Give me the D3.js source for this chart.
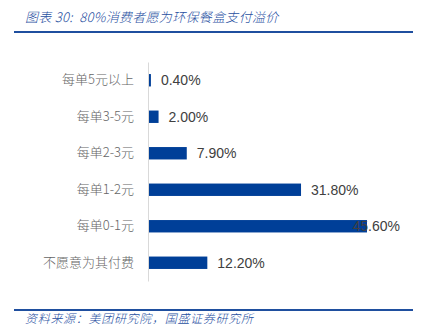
<!DOCTYPE html>
<html>
<head>
<meta charset="utf-8">
<script src="https://cdn.jsdelivr.net/npm/d3@7"></script>
<style>
  body { margin: 0; background: #fff; }
  text { font-family: "Noto Sans CJK SC", "Liberation Sans", sans-serif; }
</style>
</head>
<body>
<script>
// chart data
var categories = ["每单5元以上", "每单3-5元", "每单2-3元", "每单1-2元", "每单0-1元", "不愿意为其付费"];
var values = [0.4, 2.0, 7.9, 31.8, 45.6, 12.2];
var valueLabels = ["0.40%", "2.00%", "7.90%", "31.80%", "45.60%", "12.20%"];
var titleText = "图表 30:\u00a0\u00a080%消费者愿为环保餐盒支付溢价";
var sourceText = "资料来源：美团研究院，国盛证券研究所";

var width = 431, height = 336;

var svg = d3.select("body")
    .append("svg")
    .attr("width", width)
    .attr("height", height);

// header
svg.append("text")
    .attr("x", 25)
    .attr("y", 22)
    .attr("fill", "#1f4f9f")
    .attr("font-size", 13)
    .attr("font-style", "italic")
    .attr("font-weight", 300)
    .attr("letter-spacing", 0.3)
    .text(titleText);

svg.append("line")
    .attr("x1", 14).attr("x2", 413)
    .attr("y1", 32).attr("y2", 32)
    .attr("stroke", "#1f4f9f")
    .attr("stroke-width", 2);

// scales
var x = d3.scaleLinear()
    .domain([0, 45.6])
    .range([148, 366]);

var y = d3.scaleBand()
    .domain(categories)
    .range([62, 281])
    .paddingInner(0.66)
    .paddingOuter(0.33);

// category axis
var yAxis = svg.append("g")
    .attr("transform", "translate(148,0)")
    .call(d3.axisLeft(y).tickSize(0).tickPadding(14));
yAxis.select(".domain").attr("stroke", "#d9d9d9");
yAxis.selectAll("text")
    .attr("fill", "#666666")
    .attr("font-size", 13)
    .attr("font-weight", 300)
    .style("font-family", "'Noto Sans CJK SC', sans-serif");

// bars
var data = categories.map(function(c, i){
  return {cat: c, val: values[i], label: valueLabels[i]};
});

svg.selectAll(".bar")
    .data(data)
    .enter()
    .append("rect")
    .attr("class", "bar")
    .attr("x", x(0) + 1)
    .attr("y", function(d){ return y(d.cat); })
    .attr("width", function(d){ return Math.max(1, x(d.val) - x(0)); })
    .attr("height", y.bandwidth())
    .attr("fill", "#003f98");

// value labels (pushed back inside when they would run past the plot edge)
svg.selectAll(".val")
    .data(data)
    .enter()
    .append("text")
    .attr("class", "val")
    .attr("y", function(d){ return y(d.cat) + y.bandwidth() / 2; })
    .attr("dy", "0.35em")
    .attr("fill", "#404040")
    .attr("font-size", 14)
    .style("font-family", "'Liberation Sans', Arial, sans-serif")
    .text(function(d){ return d.label; })
    .attr("x", function(d){
      var w = this.getComputedTextLength();
      return Math.min(x(d.val) + 11, 400 - w);
    });

// footer
svg.append("line")
    .attr("x1", 14).attr("x2", 413)
    .attr("y1", 310).attr("y2", 310)
    .attr("stroke", "#1f4f9f")
    .attr("stroke-width", 2);

svg.append("text")
    .attr("x", 25)
    .attr("y", 323)
    .attr("fill", "#1f4f9f")
    .attr("font-size", 12)
    .attr("font-style", "italic")
    .attr("font-weight", 300)
    .attr("letter-spacing", 0.7)
    .text(sourceText);
</script>
</body>
</html>
